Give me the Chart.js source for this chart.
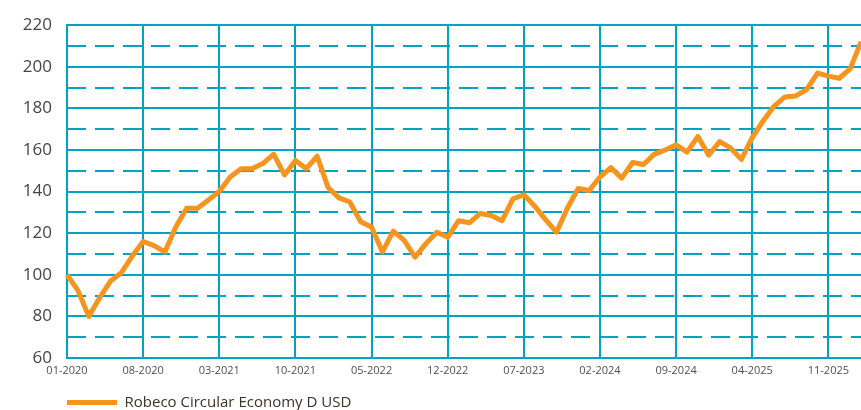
<!DOCTYPE html>
<html>
<head>
<meta charset="utf-8">
<script src="https://cdn.jsdelivr.net/npm/chart.js@4.4.1/dist/chart.umd.min.js"></script>
<style>
  html, body { margin: 0; padding: 0; overflow: hidden; background: #fff; }
  #wrap { width: 861px; height: 420px; }
</style>
</head>
<body>
<div id="wrap"><canvas id="mycanvas" width="861" height="420"></canvas></div>
<script>
// monthly index values, 01-2020 .. 02-2026
var values = [
  100, 92.5, 80, 89, 97, 101, 109, 116, 114, 111,
  123, 132, 132, 136, 140, 147, 151, 151, 153.5, 158,
  148, 155, 151, 157, 142, 137, 135, 125.5, 123, 111,
  121, 116.5, 108.5, 115, 120.5, 118, 126, 125, 129.5, 128.5,
  126, 136.5, 138.5, 133, 126.5, 120.5, 132, 141.5, 140.5, 147,
  151.5, 146.5, 154, 153, 158, 160, 162.5, 159, 166.5, 157.5,
  164, 161, 155.5, 166, 174, 181, 185.5, 186, 189, 197,
  195.5, 194.5, 199, 212
];
var seriesName = 'Robeco Circular Economy D USD';
var yTicks = [60, 80, 100, 120, 140, 160, 180, 200, 220];
var yDashed = [70, 90, 110, 130, 150, 170, 190, 210];

// month categories
var months = [];
for (var i = 0; i < values.length; i++) {
  var m = i % 12 + 1;
  var y = 2020 + Math.floor(i / 12);
  months.push((m < 10 ? '0' + m : '' + m) + '-' + y);
}

var teal = '#00a4c2';
var ctx = document.getElementById('mycanvas');
var lineGraph = new Chart(ctx, {
  type: 'line',
  data: {
    labels: months,
    datasets: [{
      label: seriesName,
      data: values,
      borderColor: '#f7941d',
      backgroundColor: '#f7941d',
      borderWidth: 5,
      pointRadius: 0,
      tension: 0,
      borderJoinStyle: 'round',
      yAxisID: 'y'
    }]
  },
  options: {
    responsive: false,
    animation: false,
    devicePixelRatio: 1,
    layout: { padding: { top: 19, right: 0, left: 0, bottom: 0 } },
    plugins: {
      tooltip: { enabled: false },
      legend: {
        position: 'bottom',
        align: 'start',
        fullSize: false,
        labels: {
          usePointStyle: true,
          pointStyle: 'line',
          pointStyleWidth: 50,
          padding: 0,
          color: '#3b3328',
          font: { family: 'Open Sans', size: 15 }
        }
      }
    },
    scales: {
      x: {
        grid: {
          color: function (c) { return c.index % 7 === 0 ? teal : 'rgba(0,0,0,0)'; },
          lineWidth: 2,
          drawTicks: false
        },
        border: { color: teal, width: 2 },
        ticks: {
          autoSkip: false,
          maxRotation: 0,
          padding: 6,
          color: '#505050',
          font: { family: 'Open Sans', size: 11 },
          callback: function (v, idx) { return idx % 7 === 0 ? months[idx] : ''; }
        },
        afterFit: function (s) { s.height = 37; s.paddingRight = 0; s.paddingLeft = 0; }
      },
      y: {
        position: 'left',
        min: 60,
        max: 220,
        afterBuildTicks: function (s) { s.ticks = yTicks.map(function (v) { return { value: v }; }); },
        grid: { color: teal, lineWidth: 2, drawTicks: false },
        border: { color: teal, width: 2 },
        ticks: {
          padding: 15,
          color: '#454545',
          font: { family: 'Open Sans', size: 17 }
        },
        afterFit: function (s) { s.width = 67; }
      },
      y2: {
        position: 'left',
        min: 60,
        max: 220,
        afterBuildTicks: function (s) { s.ticks = yDashed.map(function (v) { return { value: v }; }); },
        grid: { color: teal, lineWidth: 2, drawTicks: false, drawOnChartArea: true },
        border: { display: false, dash: [19, 9] },
        ticks: { display: false },
        afterFit: function (s) { s.width = 0; }
      }
    }
  }
});
</script>
</body>
</html>
